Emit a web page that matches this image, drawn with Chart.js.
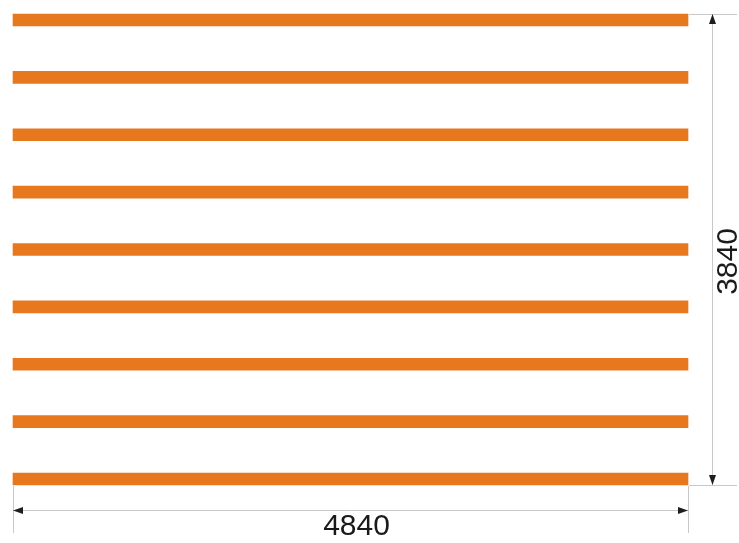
<!DOCTYPE html>
<html>
<head>
<meta charset="utf-8">
<script src="https://cdn.jsdelivr.net/npm/chart.js@4/dist/chart.umd.min.js"></script>
<style>
html,body{margin:0;padding:0;background:#fff;}
#wrap{width:739px;height:543px;}
</style>
</head>
<body>
<div id="wrap"><canvas id="c" width="739" height="543"></canvas></div>
<script>
// Data
const planks = ['1','2','3','4','5','6','7','8','9'];
const plankStart = [0,0,0,0,0,0,0,0,0];
const plankEnd = [4840,4840,4840,4840,4840,4840,4840,4840,4840];
const overallWidth = 4840;
const overallHeight = 3840;

const dimPlugin = {
  id: 'dims',
  afterDatasetsDraw(chart) {
    const ctx = chart.ctx;
    const xs = chart.scales.x;
    const meta = chart.getDatasetMeta(0);
    const first = meta.data[0], last = meta.data[meta.data.length - 1];
    const xL = xs.getPixelForValue(0);
    const xR = xs.getPixelForValue(overallWidth);
    const yT = first.y - first.height / 2;
    const yB = last.y + last.height / 2;
    const W = chart.width, H = chart.height;
    const lineCol = '#c9c9c9';
    const arrowCol = '#1e1e1e';
    ctx.save();
    ctx.strokeStyle = lineCol;
    ctx.lineWidth = 1;
    // vertical dimension extension lines
    ctx.beginPath();
    ctx.moveTo(xR + 1, yT + 0.5); ctx.lineTo(W - 2, yT + 0.5);
    ctx.moveTo(xR + 1, yB + 0.5); ctx.lineTo(W - 2, yB + 0.5);
    // horizontal dimension extension lines
    ctx.moveTo(xL + 0.5, yB + 1); ctx.lineTo(xL + 0.5, H - 10);
    ctx.moveTo(xR + 0.5, yB + 1); ctx.lineTo(xR + 0.5, H - 10);
    // dimension lines
    const xd = xR + 24.5;
    const yd = yB + 25.5;
    ctx.moveTo(xd, yT); ctx.lineTo(xd, yB);
    ctx.moveTo(xL, yd); ctx.lineTo(xR, yd);
    ctx.stroke();
    // arrows
    ctx.fillStyle = arrowCol;
    const al = 10, aw = 3.5;
    function tri(p1, p2, p3) { ctx.beginPath(); ctx.moveTo(p1[0],p1[1]); ctx.lineTo(p2[0],p2[1]); ctx.lineTo(p3[0],p3[1]); ctx.closePath(); ctx.fill(); }
    tri([xd, yT], [xd - aw, yT + al], [xd + aw, yT + al]);
    tri([xd, yB], [xd - aw, yB - al], [xd + aw, yB - al]);
    tri([xL, yd], [xL + al, yd - aw], [xL + al, yd + aw]);
    tri([xR, yd], [xR - al, yd - aw], [xR - al, yd + aw]);
    // texts
    ctx.fillStyle = '#1a1a1a';
    ctx.font = '30px "Liberation Sans", Arial, sans-serif';
    ctx.textAlign = 'center';
    ctx.textBaseline = 'middle';
    ctx.fillText(String(overallWidth), (xL + xR) / 2 + 6, yd + 16);
    ctx.save();
    ctx.translate(xd + 16, (yT + yB) / 2 + 12);
    ctx.rotate(-Math.PI / 2);
    ctx.fillText(String(overallHeight), 0, 0);
    ctx.restore();
    ctx.restore();
  }
};

new Chart(document.getElementById('c'), {
  type: 'bar',
  data: {
    labels: planks,
    datasets: [{
      data: plankStart.map((s, i) => [s, plankEnd[i]]),
      backgroundColor: '#e8781e',
      borderWidth: 0,
      barThickness: 12,
      clip: false
    }]
  },
  options: {
    indexAxis: 'y',
    responsive: false,
    animation: false,
    layout: { padding: { left: 13, right: 51, top: 20, bottom: 64 } },
    plugins: { legend: { display: false }, tooltip: { enabled: false } },
    scales: {
      x: { type: 'linear', min: 0, max: overallWidth, display: false },
      y: { type: 'category', offset: false, display: false, grid: { offset: false } }
    }
  },
  plugins: [dimPlugin]
});
</script>
</body>
</html>
